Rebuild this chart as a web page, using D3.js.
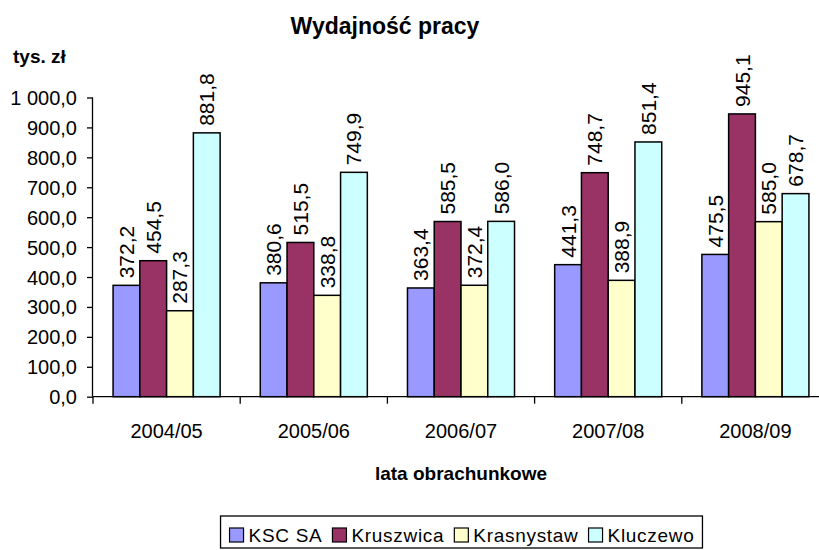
<!DOCTYPE html>
<html>
<head>
<meta charset="utf-8">
<script src="https://cdn.jsdelivr.net/npm/d3@7"></script>
<style>
  html, body { margin: 0; padding: 0; background: #fff; }
  svg { display: block; font-family: "Liberation Sans", Arial, sans-serif; }
</style>
</head>
<body>
<svg id="chart" width="819" height="550"></svg>
<script>
const categories = ["2004/05", "2005/06", "2006/07", "2007/08", "2008/09"];
const seriesNames = ["KSC SA", "Kruszwica", "Krasnystaw", "Kluczewo"];
const kscSA      = [372.2, 380.6, 363.4, 441.3, 475.5];
const kruszwica  = [454.5, 515.5, 585.5, 748.7, 945.1];
const krasnystaw = [287.3, 338.8, 372.4, 388.9, 585.0];
const kluczewo   = [881.8, 749.9, 586.0, 851.4, 678.7];
const yTicks = [0, 100, 200, 300, 400, 500, 600, 700, 800, 900, 1000];
const colors = ["#9999FF", "#993366", "#FFFFCC", "#CCFFFF"];
const titleText = "Wydajność pracy";
const yUnit = "tys. zł";
const xTitle = "lata obrachunkowe";

const seriesValues = [kscSA, kruszwica, krasnystaw, kluczewo];

const svg = d3.select("#chart");
const plotLeft = 93, catW = 147.2;
const y0 = 396.7, y1000 = 97.5;

const x = d3.scaleBand().domain(categories).range([plotLeft, plotLeft + catW * categories.length]).padding(0);
const xs = d3.scaleBand().domain(seriesNames).range([0, x.bandwidth()]).paddingInner(0).paddingOuter(0.75);
const y = d3.scaleLinear().domain([0, 1000]).range([y0, y1000]);

const fmt = v => {
  const s = v.toFixed(1).replace(".", ",");
  const [ip, dp] = s.split(",");
  return ip.replace(/\B(?=(\d{3})+(?!\d))/g, " ") + "," + dp;
};

// title
svg.append("text").attr("x", 385).attr("y", 34).attr("text-anchor", "middle")
  .attr("font-weight", "bold").attr("font-size", 23).text(titleText);
svg.append("text").attr("x", 13).attr("y", 63)
  .attr("font-weight", "bold").attr("font-size", 19).text(yUnit);

// bars
const data = [];
categories.forEach((c, ci) => seriesNames.forEach((s, si) => data.push({c, s, si, v: seriesValues[si][ci]})));

svg.append("g").selectAll("rect").data(data).join("rect")
  .attr("x", d => x(d.c) + xs(d.s))
  .attr("y", d => y(d.v))
  .attr("width", xs.bandwidth())
  .attr("height", d => y(0) - y(d.v))
  .attr("fill", d => colors[d.si])
  .attr("stroke", "#000").attr("stroke-width", 1.5);

// data labels
svg.append("g").selectAll("text").data(data).join("text")
  .attr("transform", d => `translate(${x(d.c) + xs(d.s) + xs.bandwidth() / 2 + 7.5},${y(d.v) - 7}) rotate(-90)`)
  .attr("font-size", 21).attr("text-anchor", "start")
  .text(d => fmt(d.v));

// y axis
const yAxis = d3.axisLeft(y).tickValues(yTicks).tickFormat(fmt).tickSize(6).tickPadding(10);
const gy = svg.append("g").attr("transform", `translate(${plotLeft},0)`).call(yAxis);
gy.select(".domain").attr("d", `M-0.5,${y1000}V${y0}`).attr("stroke", "#000").attr("stroke-width", 1.3);
gy.selectAll(".tick line").attr("stroke", "#000").attr("stroke-width", 1.3);
gy.selectAll(".tick text").attr("font-size", 20).attr("fill", "#000")
  .attr("font-family", "'Liberation Sans', Arial, sans-serif").attr("dy", "0.35em");

// x axis
const gx = svg.append("g").attr("transform", `translate(0,${y0})`);
gx.append("line").attr("x1", plotLeft).attr("x2", 819).attr("y1", 0).attr("y2", 0)
  .attr("stroke", "#000").attr("stroke-width", 1.3);
const bounds = categories.map(c => x(c));
gx.selectAll("line.tk").data(bounds).join("line").attr("class", "tk")
  .attr("x1", d => d).attr("x2", d => d).attr("y1", 0).attr("y2", 7)
  .attr("stroke", "#000").attr("stroke-width", 1.3);
gx.selectAll("text").data(categories).join("text")
  .attr("x", d => x(d) + x.bandwidth() / 2).attr("y", 41.5)
  .attr("text-anchor", "middle").attr("font-size", 20).text(d => d);

svg.append("text").attr("x", plotLeft + catW * 2.5).attr("y", 480).attr("text-anchor", "middle")
  .attr("font-weight", "bold").attr("font-size", 19).text(xTitle);

// legend
const lg = svg.append("g");
const box = lg.append("rect").attr("fill", "#fff").attr("stroke", "#000").attr("stroke-width", 1.3);
let lx = 9;
seriesNames.forEach((s, i) => {
  lg.append("rect").attr("x", lx).attr("y", 12).attr("width", 14).attr("height", 14)
    .attr("fill", colors[i]).attr("stroke", "#000").attr("stroke-width", 1.2);
  const t = lg.append("text").attr("x", lx + 19).attr("y", 26).attr("font-size", 19)
    .attr("letter-spacing", "0.7px").text(s);
  const w = t.node().getComputedTextLength();
  lx += 19 + w + 10;
});
const totalW = lx - 10 + 8;
box.attr("x", 0).attr("y", 0).attr("width", totalW).attr("height", 32);
lg.attr("transform", `translate(${461.5 - totalW / 2},516)`);
</script>
</body>
</html>
